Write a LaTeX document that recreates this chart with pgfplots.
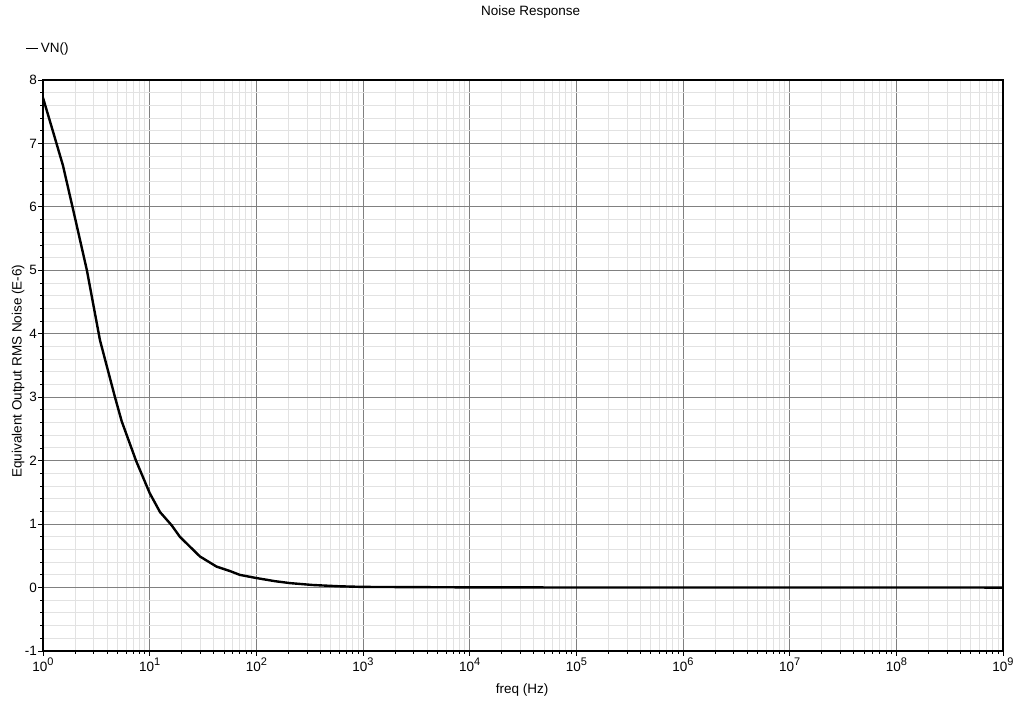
\documentclass[border=0pt]{standalone}
\usepackage{pgfplots}
\pgfplotsset{compat=1.18}
\usepackage{fontspec}
\setmainfont{Liberation Sans}
\definecolor{majgrid}{RGB}{128,128,128}
\definecolor{mingrid}{RGB}{226,226,226}
\newcommand{\tp}[1]{10\raisebox{0.42em}{\fontsize{11}{11}\selectfont #1}}
\begin{document}
\begin{tikzpicture}[x=1pt,y=1pt,font=\fontsize{13.5}{15}\selectfont]
\path[use as bounding box] (0,0) rectangle (1021,704);
\begin{axis}[
  at={(43pt,53pt)}, anchor=south west,
  scale only axis, width=960pt, height=571pt,
  xmode=log, xmin=1, xmax=1e9, ymin=-1, ymax=8,
  xtick={1,10,100,1e3,1e4,1e5,1e6,1e7,1e8,1e9},
  xticklabels={\tp{0},\tp{1},\tp{2},\tp{3},\tp{4},\tp{5},\tp{6},\tp{7},\tp{8},\tp{9}},
  ytick={-1,0,1,2,3,4,5,6,7,8},
  minor y tick num=4,
  grid=both,
  major grid style={majgrid, line width=1pt},
  minor grid style={mingrid, line width=1pt},
  tick align=outside,
  xtick pos=bottom, ytick pos=left,
  major tick length=5pt, minor tick length=3pt,
  tick style={black, line width=0.9pt},
  axis line style={black, line width=1.2pt},
  /pgf/number format/assume math mode=true,
  yticklabel style={inner sep=1pt},
  xticklabel style={inner sep=2pt},
  every axis title shift=0pt,
  title={Noise Response},
  title style={at={(axis description cs:0.508,1.119)}, anchor=center, inner sep=0pt},
  xlabel={freq (Hz)},
  xlabel style={at={(axis description cs:0.499,-0.068)}, anchor=center, inner sep=0pt},
  ylabel={Equivalent Output RMS Noise (E-6)},
  ylabel style={at={(axis description cs:-0.026,0.49)}, anchor=center, inner sep=0pt},
  legend style={at={(axis description cs:-0.0177,1.056)}, anchor=west, draw=none, fill=none, inner sep=0pt, outer sep=0pt},
  legend image code/.code={\draw[black, line width=0.9pt] (0pt,0pt) -- (12pt,0pt);},
]
\addplot[black, line width=2.4pt, line join=round] coordinates {
(1,7.72) (1.26,7.15) (1.54,6.65) (2.0,5.82) (2.58,5.0) (3.42,3.9) (4.73,3.0) (5.47,2.62) (7.45,2.0) (10,1.49) (12.5,1.19) (16.1,0.98) (19.2,0.80) (29.6,0.49) (42.4,0.33) (56.6,0.26) (70,0.2) (100,0.15) (150,0.1) (207,0.07) (339,0.04) (600,0.02) (1000,0.01) (1e4,0.003) (1e5,0.001) (1e9,0)
};
\addlegendentry{VN()}
\end{axis}
\end{tikzpicture}
\end{document}
